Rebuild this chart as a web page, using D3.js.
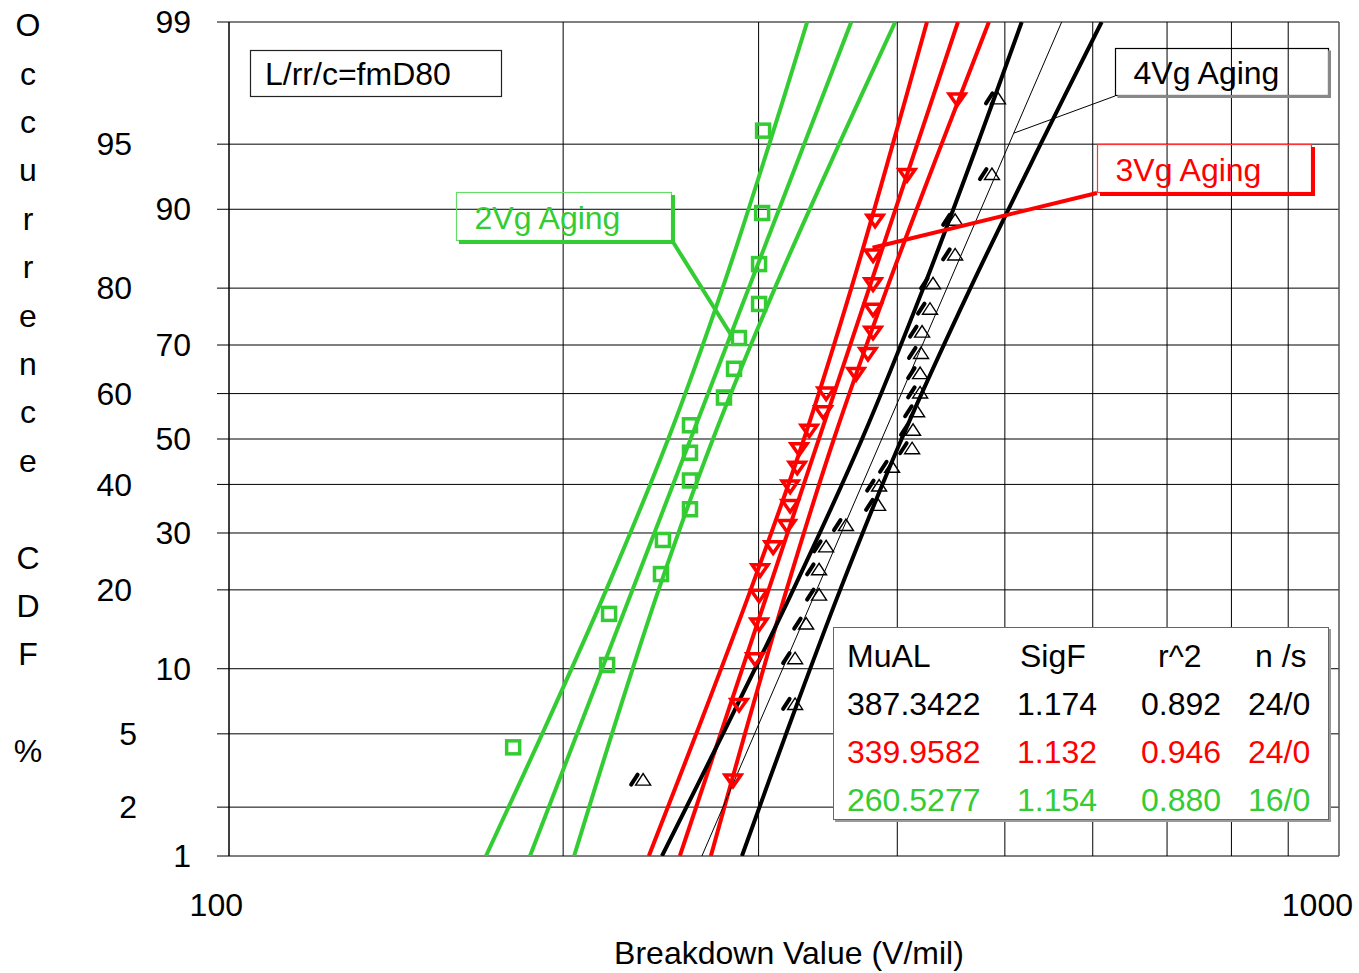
<!DOCTYPE html>
<html>
<head>
<meta charset="utf-8">
<script src="https://cdn.jsdelivr.net/npm/d3@7"></script>
<style>
  body { margin: 0; background: #fff; }
  svg { display: block; }
  text { font-family: "Liberation Sans", Arial, Helvetica, sans-serif; }
</style>
</head>
<body>
<svg id="chart" width="1359" height="973"></svg>
<script>
// ---- axis ticks -------------------------------------------------------
const pctTicks = [1, 2, 5, 10, 20, 30, 40, 50, 60, 70, 80, 90, 95, 99];
const pctTicksInner = [99, 90, 70, 50, 30, 10, 1];   // labels in the right-hand column
const xTickLabels = [100, 1000];
const xGridValues = [200, 300, 400, 500, 600, 700, 800, 900];

// ---- fitted lognormal parameters (legend table) -----------------------
const seriesNames = ["4Vg Aging", "3Vg Aging", "2Vg Aging"];
const seriesColors = ["#000000", "#ff0000", "#33cc33"];
const muAL = [387.3422, 339.9582, 260.5277];
const sigF = [1.174, 1.132, 1.154];
const rSquared = ["0.892", "0.946", "0.880"];
const nOverS = ["24/0", "24/0", "16/0"];

// ---- plotting positions (median ranks, %) -----------------------------
const rank24 = [2.87, 6.97, 11.07, 15.16, 19.26, 23.36, 27.46, 31.56, 35.66, 39.75, 43.85, 47.95,
                52.05, 56.15, 60.25, 64.34, 68.44, 72.54, 76.64, 80.74, 84.84, 88.93, 93.03, 97.13];
const rank16 = [4.27, 10.37, 16.46, 22.56, 28.66, 34.76, 40.85, 46.95,
                53.05, 59.15, 65.24, 71.34, 77.44, 83.54, 89.63, 95.73];

// ---- breakdown values (V/mil), sorted ---------------------------------
const vg4Values = [236.1, 323.6, 323.6, 331.1, 340.1, 340.1, 345.1, 359.6, 384.4, 385.2, 395.7, 412.5,
                   413.3, 416.8, 419.4, 419.4, 420.2, 421.1, 428.1, 430.8, 451.0, 451.0, 486.8, 492.9];
const vg3Values = [284.5, 288.1, 297.8, 300.3, 300.3, 300.9, 309.2, 318.3, 320.3, 320.3, 325.0, 326.3,
                   333.2, 343.0, 345.1, 367.2, 376.4, 380.4, 380.4, 380.4, 380.4, 382.0, 408.2, 452.9];
const vg2Values = [180.3, 219.1, 220.0, 245.0, 246.0, 260.2, 260.2, 260.2, 260.2, 279.2, 285.1, 288.0,
                   300.3, 300.3, 302.2, 302.8];

// ---- confidence bounds (V/mil) at these CDF levels ---------------------
const boundPct = [1, 5, 20, 50, 80, 95, 99];
const vg4Lower = [245.5, 278.6, 322.3, 371.8, 422.2, 472.4, 517.8];
const vg4Upper = [289.8, 317.6, 355.3, 403.6, 465.5, 538.5, 611.2];
const vg3Lower = [238.9, 263.6, 295.1, 329.6, 363.6, 396.3, 425.4];
const vg3Upper = [271.7, 291.6, 317.9, 350.7, 391.6, 438.5, 483.7];
const vg2Lower = [170.4, 191.5, 218.7, 248.7, 278.4, 306.7, 331.8];
const vg2Upper = [204.6, 221.3, 243.8, 272.9, 310.3, 354.5, 398.3];

// ---- geometry ---------------------------------------------------------
const X0 = 229, X1 = 1339, Y0 = 22, Y1 = 856;
const FONT = 32;

// inverse standard normal CDF (Acklam)
function probit(p) {
  const a = [-3.969683028665376e+01, 2.209460984245205e+02, -2.759285104469687e+02,
             1.383577518672690e+02, -3.066479806614716e+01, 2.506628277459239e+00];
  const b = [-5.447609879822406e+01, 1.615858368580409e+02, -1.556989798598866e+02,
             6.680131188771972e+01, -1.328068155288572e+01];
  const c = [-7.784894002430293e-03, -3.223964580411365e-01, -2.400758277161838e+00,
             -2.549732539343734e+00, 4.374664141464968e+00, 2.938163982698783e+00];
  const d = [7.784695709041462e-03, 3.224671290700398e-01, 2.445134137142996e+00,
             3.754408661907416e+00];
  const pl = 0.02425, ph = 1 - pl;
  let q, r;
  if (p < pl) {
    q = Math.sqrt(-2 * Math.log(p));
    return (((((c[0]*q+c[1])*q+c[2])*q+c[3])*q+c[4])*q+c[5]) / ((((d[0]*q+d[1])*q+d[2])*q+d[3])*q+1);
  } else if (p <= ph) {
    q = p - 0.5; r = q * q;
    return (((((a[0]*r+a[1])*r+a[2])*r+a[3])*r+a[4])*r+a[5])*q / (((((b[0]*r+b[1])*r+b[2])*r+b[3])*r+b[4])*r+1);
  } else {
    q = Math.sqrt(-2 * Math.log(1 - p));
    return -(((((c[0]*q+c[1])*q+c[2])*q+c[3])*q+c[4])*q+c[5]) / ((((d[0]*q+d[1])*q+d[2])*q+d[3])*q+1);
  }
}

const x = d3.scaleLog().domain([100, 1000]).range([X0, X1]);
const zScale = d3.scaleLinear().domain([probit(0.01), probit(0.99)]).range([Y1, Y0]);
const y = pct => zScale(probit(pct / 100));

// value of a fitted lognormal line at a CDF level
const fitAt = (i, pct) => muAL[i] * Math.pow(sigF[i], probit(pct / 100));

const svg = d3.select("#chart");
svg.append("rect").attr("width", 1359).attr("height", 973).attr("fill", "#fff");

svg.append("clipPath").attr("id", "plotClip")
  .append("rect").attr("x", X0).attr("y", Y0).attr("width", X1 - X0).attr("height", Y1 - Y0);

// ---- grid -------------------------------------------------------------
const grid = svg.append("g");
grid.selectAll("line.h").data(pctTicks).join("line")
  .attr("x1", X0).attr("x2", X1)
  .attr("y1", d => y(d)).attr("y2", d => y(d))
  .attr("stroke", "#000").attr("stroke-width", 1);
grid.selectAll("line.v").data(xGridValues).join("line")
  .attr("x1", d => x(d)).attr("x2", d => x(d))
  .attr("y1", Y0).attr("y2", Y1)
  .attr("stroke", "#000").attr("stroke-width", 1);
// frame
grid.append("line").attr("x1", X1).attr("x2", X1).attr("y1", Y0).attr("y2", Y1)
  .attr("stroke", "#555").attr("stroke-width", 1.5);
grid.append("line").attr("x1", X0).attr("x2", X0).attr("y1", Y0).attr("y2", Y1)
  .attr("stroke", "#000").attr("stroke-width", 1.5);

// y ticks and labels
const yAxis = svg.append("g");
yAxis.selectAll("line").data(pctTicks).join("line")
  .attr("x1", X0 - 12).attr("x2", X0)
  .attr("y1", d => y(d)).attr("y2", d => y(d))
  .attr("stroke", "#000").attr("stroke-width", 1);
yAxis.selectAll("text").data(pctTicks).join("text")
  .attr("x", d => pctTicksInner.includes(d) ? 191 : (d < 10 ? 137 : 132))
  .attr("y", d => y(d))
  .attr("dy", "0.35em")
  .attr("text-anchor", "end")
  .attr("font-size", FONT)
  .text(d => d);

// x tick labels
svg.append("g").selectAll("text").data(xTickLabels).join("text")
  .attr("x", d => x(d) + 14)
  .attr("y", 905)
  .attr("dy", "0.35em")
  .attr("text-anchor", "end")
  .attr("font-size", FONT)
  .text(d => d);

// axis titles
svg.append("text")
  .attr("x", 789).attr("y", 953).attr("dy", "0.35em")
  .attr("text-anchor", "middle").attr("font-size", FONT)
  .text("Breakdown Value (V/mil)");

const yTitle = "Occurrence CDF %".split("");
svg.append("g").selectAll("text").data(yTitle).join("text")
  .attr("x", 28)
  .attr("y", (d, i) => 25 + i * 48.4)
  .attr("dy", "0.35em")
  .attr("text-anchor", "middle")
  .attr("font-size", FONT)
  .text(d => d);

// ---- lines ------------------------------------------------------------
const plot = svg.append("g").attr("clip-path", "url(#plotClip)");

const boundLine = d3.line().x(d => x(d[0])).y(d => y(d[1])).curve(d3.curveCatmullRom);
const boundSets = [
  [vg4Lower, vg4Upper],
  [vg3Lower, vg3Upper],
  [vg2Lower, vg2Upper]
];

// draw order: green, red, black
[2, 1, 0].forEach(i => {
  const col = seriesColors[i];
  boundSets[i].forEach(vals => {
    plot.append("path")
      .datum(vals.map((v, k) => [v, boundPct[k]]))
      .attr("d", boundLine)
      .attr("fill", "none").attr("stroke", col).attr("stroke-width", 4);
  });
  const fitPts = [1, 99].map(p => [fitAt(i, p), p]);
  plot.append("path")
    .datum(fitPts)
    .attr("d", d3.line().x(d => x(d[0])).y(d => y(d[1])))
    .attr("fill", "none").attr("stroke", col)
    .attr("stroke-width", i === 0 ? 1 : 4);
});

// ---- markers ----------------------------------------------------------
const gGreen = svg.append("g");
gGreen.selectAll("rect").data(vg2Values).join("rect")
  .attr("x", d => x(d) - 6.5)
  .attr("y", (d, k) => y(rank16[k]) - 6.5)
  .attr("width", 13).attr("height", 13)
  .attr("fill", "none").attr("stroke", seriesColors[2]).attr("stroke-width", 3.5);

const gRed = svg.append("g");
gRed.selectAll("path").data(vg3Values).join("path")
  .attr("transform", (d, k) => `translate(${x(d)},${y(rank24[k])})`)
  .attr("d", "M-8,-4.5L8,-4.5L0,7Z")
  .attr("fill", "none").attr("stroke", seriesColors[1]).attr("stroke-width", 3.5)
  .attr("stroke-linejoin", "miter");

const gBlack = svg.append("g");
const blackMarks = gBlack.selectAll("g").data(vg4Values).join("g")
  .attr("transform", (d, k) => `translate(${x(d)},${y(rank24[k])})`);
blackMarks.append("path")
  .attr("d", "M-7.5,5.5L7.5,5.5L0,-6Z")
  .attr("fill", "none").attr("stroke", "#000").attr("stroke-width", 1.4);
blackMarks.append("path")
  .attr("d", "M-12,5L-5.5,-5")
  .attr("fill", "none").attr("stroke", "#000").attr("stroke-width", 4)
  .attr("stroke-linecap", "round");

// ---- annotation boxes -------------------------------------------------
// condition label
svg.append("rect").attr("x", 250.5).attr("y", 50.5).attr("width", 251).attr("height", 46)
  .attr("fill", "#fff").attr("stroke", "#222").attr("stroke-width", 1.2);
svg.append("text").attr("x", 265).attr("y", 74).attr("dy", "0.35em")
  .attr("font-size", FONT).text("L/rr/c=fmD80");

function calloutBox(bx, by, bw, bh, color, thin, shadow, label, shadowW) {
  const g = svg.append("g");
  g.append("rect").attr("x", bx).attr("y", by).attr("width", bw).attr("height", bh)
    .attr("fill", "none").attr("stroke", thin).attr("stroke-width", 1.2);
  g.append("path")
    .attr("d", `M${bx + bw},${by + 1}L${bx + bw},${by + bh}L${bx + 1},${by + bh}`)
    .attr("fill", "none").attr("stroke", shadow).attr("stroke-width", shadowW)
    .attr("transform", `translate(${shadowW / 2 - 0.5},${shadowW / 2 - 0.5})`);
  g.append("text").attr("x", bx + 18).attr("y", by + bh / 2 + 1).attr("dy", "0.35em")
    .attr("font-size", FONT).attr("fill", color).text(label);
  return g;
}

// leader lines
svg.append("line")
  .attr("x1", 673).attr("y1", 242)
  .attr("x2", x(fitAt(2, 72))).attr("y2", y(72))
  .attr("stroke", seriesColors[2]).attr("stroke-width", 4);
svg.append("line")
  .attr("x1", 1097).attr("y1", 193)
  .attr("x2", x(380)).attr("y2", y(85.7))
  .attr("stroke", seriesColors[1]).attr("stroke-width", 4);
svg.append("line")
  .attr("x1", 1115).attr("y1", 96)
  .attr("x2", x(fitAt(0, 95.6))).attr("y2", y(95.6))
  .attr("stroke", "#000").attr("stroke-width", 1);

calloutBox(456.5, 192.5, 215, 48, seriesColors[2], "#66dd66", seriesColors[2], seriesNames[2], 4);
calloutBox(1097.5, 144.5, 214, 48, seriesColors[1], "#ff3333", seriesColors[1], seriesNames[1], 4);
calloutBox(1115.5, 48.5, 213, 47, "#000", "#000", "#888", seriesNames[0], 3);

// ---- fit table --------------------------------------------------------
const tbl = svg.append("g");
tbl.append("rect").attr("x", 835).attr("y", 629).attr("width", 496).attr("height", 193)
  .attr("fill", "#999");
tbl.append("rect").attr("x", 833.5).attr("y", 627.5).attr("width", 495).attr("height", 192)
  .attr("fill", "#fff").attr("stroke", "#666").attr("stroke-width", 1);

const headers = ["MuAL", "SigF", "r^2", "n /s"];
const headerX = [847, 1020, 1158, 1255];
const colX = [847, 1017, 1141, 1248];
tbl.selectAll("text.h").data(headers).join("text")
  .attr("x", (d, k) => headerX[k]).attr("y", 656).attr("dy", "0.35em")
  .attr("font-size", FONT).text(d => d);

[0, 1, 2].forEach(i => {
  const cells = [muAL[i].toFixed(4), sigF[i].toFixed(3), rSquared[i], nOverS[i]];
  tbl.append("g").selectAll("text").data(cells).join("text")
    .attr("x", (d, k) => colX[k]).attr("y", 704 + i * 48).attr("dy", "0.35em")
    .attr("font-size", FONT).attr("fill", seriesColors[i])
    .text(d => d);
});
</script>
</body>
</html>
